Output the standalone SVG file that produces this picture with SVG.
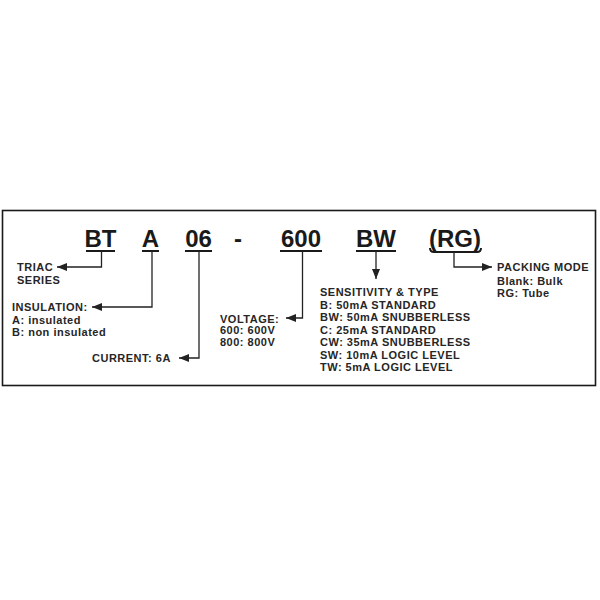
<svg xmlns="http://www.w3.org/2000/svg" width="600" height="600" viewBox="0 0 600 600">
<defs>
<marker id="ah" viewBox="0 0 10 8" refX="10" refY="4" markerWidth="10" markerHeight="8" markerUnits="userSpaceOnUse" orient="auto">
<path d="M0,0 L10,4 L0,8 Z" fill="#222"/>
</marker>
<style>
.code{font-family:"Liberation Sans",Arial,sans-serif;font-weight:bold;font-size:24px;fill:#1a1a1a;text-anchor:middle}
.lbl{font-family:"Liberation Sans",Arial,sans-serif;font-weight:bold;font-size:11px;letter-spacing:0.5px;fill:#262626}
.ul{stroke:#1a1a1a;stroke-width:2;fill:none}
.conn{stroke:#222;stroke-width:1.3;fill:none}
</style>
</defs>
<rect x="2.5" y="210.5" width="593" height="175" fill="#fff" stroke="#1a1a1a" stroke-width="1.6"/>
<g id="code">
<g id="c-bt"><text class="code" x="100.5" y="247">BT</text><line class="ul" x1="86" y1="251" x2="115" y2="251"/></g>
<g id="c-a"><text class="code" x="150.5" y="247">A</text><line class="ul" x1="142" y1="251" x2="159" y2="251"/></g>
<g id="c-06"><text class="code" x="198.5" y="247">06</text><line class="ul" x1="185" y1="251" x2="212" y2="251"/></g>
<g id="c-dash"><text class="code" x="238" y="247">-</text></g>
<g id="c-600"><text class="code" x="301" y="247">600</text><line class="ul" x1="280" y1="251" x2="322" y2="251"/></g>
<g id="c-bw"><text class="code" x="376" y="247">BW</text><line class="ul" x1="356" y1="251" x2="396" y2="251"/></g>
<g id="c-rg"><text class="code" x="455" y="247">(RG)</text><path class="ul" d="M430,248 Q430,252 434,252 L477,252 Q481,252 481,248"/></g>
</g>
<g id="connectors">
<polyline class="conn" points="101.5,251 101.5,267 57,267" marker-end="url(#ah)"/>
<polyline class="conn" points="152,251 152,307 92,307" marker-end="url(#ah)"/>
<polyline class="conn" points="199,251 199,358 179,358" marker-end="url(#ah)"/>
<polyline class="conn" points="302.5,251 302.5,318 286,318" marker-end="url(#ah)"/>
<polyline class="conn" points="376,251 376,279" marker-end="url(#ah)"/>
<polyline class="conn" points="454,252 454,267 492,267" marker-end="url(#ah)"/>
</g>
<g id="triac">
<text class="lbl" x="17" y="270.5">TRIAC</text>
<text class="lbl" x="17" y="283.5">SERIES</text>
</g>
<g id="insulation">
<text class="lbl" x="12" y="311">INSULATION:</text>
<text class="lbl" x="12" y="323.5">A: insulated</text>
<text class="lbl" x="12" y="336">B: non insulated</text>
</g>
<g id="current">
<text class="lbl" x="92" y="362">CURRENT: 6A</text>
</g>
<g id="voltage">
<text class="lbl" x="220" y="322.5">VOLTAGE:</text>
<text class="lbl" x="220" y="334">600: 600V</text>
<text class="lbl" x="220" y="346">800: 800V</text>
</g>
<g id="sensitivity">
<text class="lbl" x="320" y="296">SENSITIVITY &amp; TYPE</text>
<text class="lbl" x="320" y="308.5">B: 50mA STANDARD</text>
<text class="lbl" x="320" y="321">BW: 50mA SNUBBERLESS</text>
<text class="lbl" x="320" y="333.5">C: 25mA STANDARD</text>
<text class="lbl" x="320" y="346">CW: 35mA SNUBBERLESS</text>
<text class="lbl" x="320" y="358.5">SW: 10mA LOGIC LEVEL</text>
<text class="lbl" x="320" y="371">TW: 5mA LOGIC LEVEL</text>
</g>
<g id="packing">
<text class="lbl" x="497" y="271">PACKING MODE</text>
<text class="lbl" x="497" y="284.5">Blank: Bulk</text>
<text class="lbl" x="497" y="297">RG: Tube</text>
</g>
</svg>
